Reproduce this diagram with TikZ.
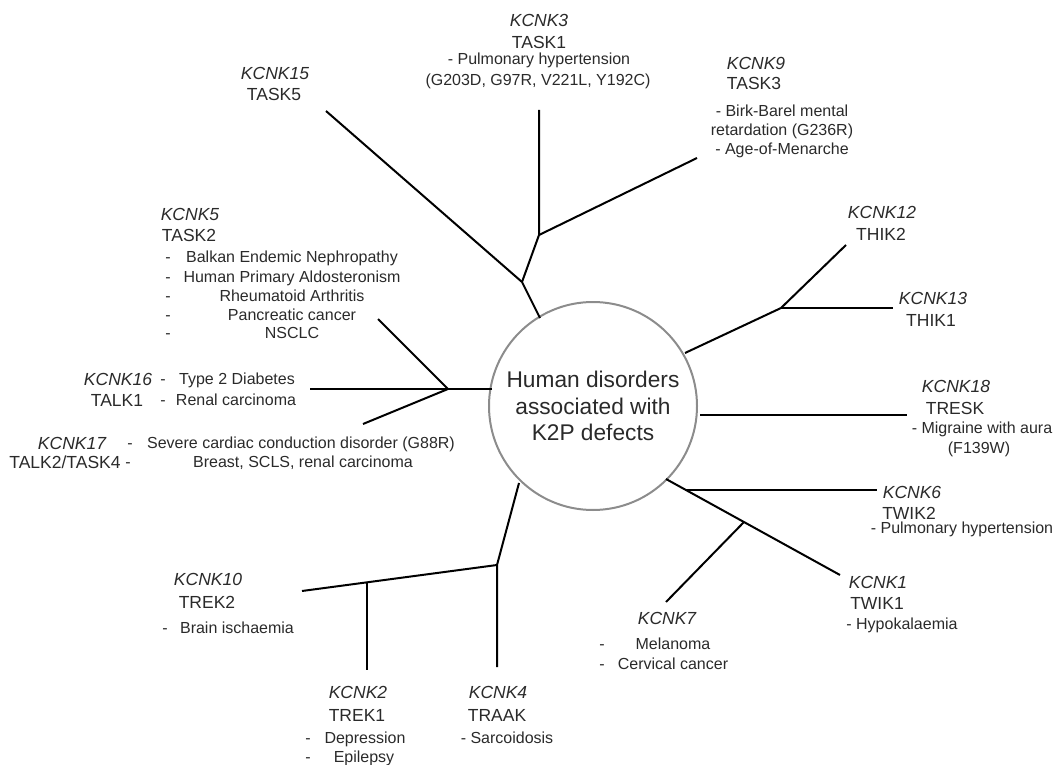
\documentclass[tikz,border=0pt]{standalone}
\usepackage{fontspec}
\setmainfont{Liberation Sans}
\definecolor{txt}{HTML}{2A2A2A}
\definecolor{hubgray}{HTML}{8C8C8C}
\begin{document}
\begin{tikzpicture}[x=1pt,y=-1pt,
  gn/.style={font=\fontsize{17.5}{20}\selectfont\itshape, text=txt, inner sep=0pt, anchor=base},
  pn/.style={font=\fontsize{17.5}{20}\selectfont, text=txt, inner sep=0pt, anchor=base},
  ds/.style={font=\fontsize{16}{19}\selectfont, text=txt, inner sep=0pt, anchor=base},
  br/.style={line width=2pt, draw=black, line join=round}]
\useasboundingbox (0,0) rectangle (1058,765);

% hub
\node[circle, draw=hubgray, line width=2pt, minimum size=208pt, inner sep=0pt,
  align=center, font=\fontsize{22.7}{26.5}\selectfont, text=txt] (hub) at (593,406)
  {Human disorders\\associated with\\K2P defects};

% tree points
\coordinate (t0) at (540,318);
\coordinate (A) at (522,282);
\coordinate (k15) at (326,111);
\coordinate (B) at (539,235);
\coordinate (k3) at (539,110);
\coordinate (k9) at (697,158);
\coordinate (r0) at (685,353);
\coordinate (C) at (781,308);
\coordinate (k12) at (846,245);
\coordinate (k13) at (893,308);
\coordinate (s0) at (700,415);
\coordinate (k18) at (907,415);
\coordinate (b0) at (666,479);
\coordinate (k1) at (840,575);
\coordinate (P6) at (686,490);
\coordinate (k6) at (877,490);
\coordinate (D) at (744,522);
\coordinate (k7) at (666,602);
\coordinate (l0) at (519,483);
\coordinate (E) at (497,565);
\coordinate (k4) at (497,667);
\coordinate (k10) at (302,591);
\coordinate (F) at (367,582.5);
\coordinate (k2) at (367,670);
\coordinate (g0) at (492,389);
\coordinate (G) at (448,389);
\coordinate (k16) at (310,389);
\coordinate (k5) at (378,319);
\coordinate (k17) at (363,424);

% branches
\draw[br] (t0) -- (A) -- (k15);
\draw[br] (A) -- (B) -- (k3);
\draw[br] (B) -- (k9);
\draw[br] (r0) -- (C) -- (k12);
\draw[br] (C) -- (k13);
\draw[br] (s0) -- (k18);
\draw[br] (b0) -- (k1);
\draw[br] (P6) -- (k6);
\draw[br] (D) -- (k7);
\draw[br] (l0) -- (E) -- (k4);
\draw[br] (E) -- (k10);
\draw[br] (F) -- (k2);
\draw[br] (g0) -- (G) -- (k16);
\draw[br] (G) -- (k5);
\draw[br] (G) -- (k17);

% KCNK3
\node[gn] (n3) at (539,26.8) {KCNK3};
\node[pn] (p3) at (539,48.3) {TASK1};
\node[ds] (d3a) at (539,64.8) {- Pulmonary hypertension};
\node[ds] (d3b) at (538,85.8) {(G203D, G97R, V221L, Y192C)};
% KCNK15
\node[gn] (n15) at (275,79.8) {KCNK15};
\node[pn] (p15) at (274,100.8) {TASK5};
% KCNK9
\node[gn] (n9) at (756,69.3) {KCNK9};
\node[pn] (p9) at (754,89.8) {TASK3};
\node[ds] (d9a) at (782,116.8) {- Birk-Barel mental};
\node[ds] (d9b) at (782,135.8) {retardation (G236R)};
\node[ds] (d9c) at (782,154.8) {- Age-of-Menarche};
% KCNK5
\node[gn] (n5) at (190,220.3) {KCNK5};
\node[pn] (p5) at (189,241.3) {TASK2};
\node[ds] (h5a) at (168,262.8) {-};
\node[ds] (d5a) at (292,262.8) {Balkan Endemic Nephropathy};
\node[ds] (h5b) at (168,282.8) {-};
\node[ds] (d5b) at (292,282.8) {Human Primary Aldosteronism};
\node[ds] (h5c) at (168,301.8) {-};
\node[ds] (d5c) at (292,301.8) {Rheumatoid Arthritis};
\node[ds] (h5d) at (168,320.8) {-};
\node[ds] (d5d) at (292,320.8) {Pancreatic cancer};
\node[ds] (h5e) at (168,338.8) {-};
\node[ds] (d5e) at (292,338.8) {NSCLC};
% KCNK16
\node[gn] (n16) at (118,385.3) {KCNK16};
\node[ds] (h16a) at (163,384.8) {-};
\node[ds] (d16a) at (237,384.8) {Type 2 Diabetes};
\node[pn] (p16) at (117,406.3) {TALK1};
\node[ds] (h16b) at (163,405.8) {-};
\node[ds] (d16b) at (236,405.8) {Renal carcinoma};
% KCNK17
\node[gn] (n17) at (72,449.3) {KCNK17};
\node[ds] (h17a) at (130,448.8) {-};
\node[ds] (d17a) at (301,448.8) {Severe cardiac conduction disorder (G88R)};
\node[pn] (p17) at (65,468.3) {TALK2/TASK4};
\node[ds] (h17b) at (128,467.8) {-};
\node[ds] (d17b) at (303,467.8) {Breast, SCLS, renal carcinoma};
% KCNK10
\node[gn] (n10) at (208,585.3) {KCNK10};
\node[pn] (p10) at (207,608.3) {TREK2};
\node[ds] (h10) at (165,633.8) {-};
\node[ds] (d10) at (237,633.8) {Brain ischaemia};
% KCNK2
\node[gn] (n2) at (358,698.3) {KCNK2};
\node[pn] (p2) at (357,721.3) {TREK1};
\node[ds] (h2a) at (308,743.8) {-};
\node[ds] (d2a) at (365,743.8) {Depression};
\node[ds] (h2b) at (308,762.3) {-};
\node[ds] (d2b) at (364,762.3) {Epilepsy};
% KCNK4
\node[gn] (n4) at (498,698.3) {KCNK4};
\node[pn] (p4) at (497,721.3) {TRAAK};
\node[ds] (d4) at (507,743.8) {- Sarcoidosis};
% KCNK12
\node[gn] (n12) at (882,218.3) {KCNK12};
\node[pn] (p12) at (881,240.3) {THIK2};
% KCNK13
\node[gn] (n13) at (933,304.3) {KCNK13};
\node[pn] (p13) at (931,326.3) {THIK1};
% KCNK18
\node[gn] (n18) at (956,392.3) {KCNK18};
\node[pn] (p18) at (955,414.3) {TRESK};
\node[ds] (d18a) at (982,433.8) {- Migraine with aura};
\node[ds] (d18b) at (979,453.8) {(F139W)};
% KCNK6
\node[gn] (n6) at (912,498.3) {KCNK6};
\node[pn] (p6) at (909,519.3) {TWIK2};
\node[ds] (d6) at (962,533.8) {- Pulmonary hypertension};
% KCNK1
\node[gn] (n1) at (878,588.3) {KCNK1};
\node[pn] (p1) at (877,609.3) {TWIK1};
\node[ds] (d1) at (902,629.8) {- Hypokalaemia};
% KCNK7
\node[gn] (n7) at (667,624.3) {KCNK7};
\node[ds] (h7a) at (602,649.8) {-};
\node[ds] (d7a) at (673,649.8) {Melanoma};
\node[ds] (h7b) at (602,669.8) {-};
\node[ds] (d7b) at (673,669.8) {Cervical cancer};
\end{tikzpicture}
\end{document}
